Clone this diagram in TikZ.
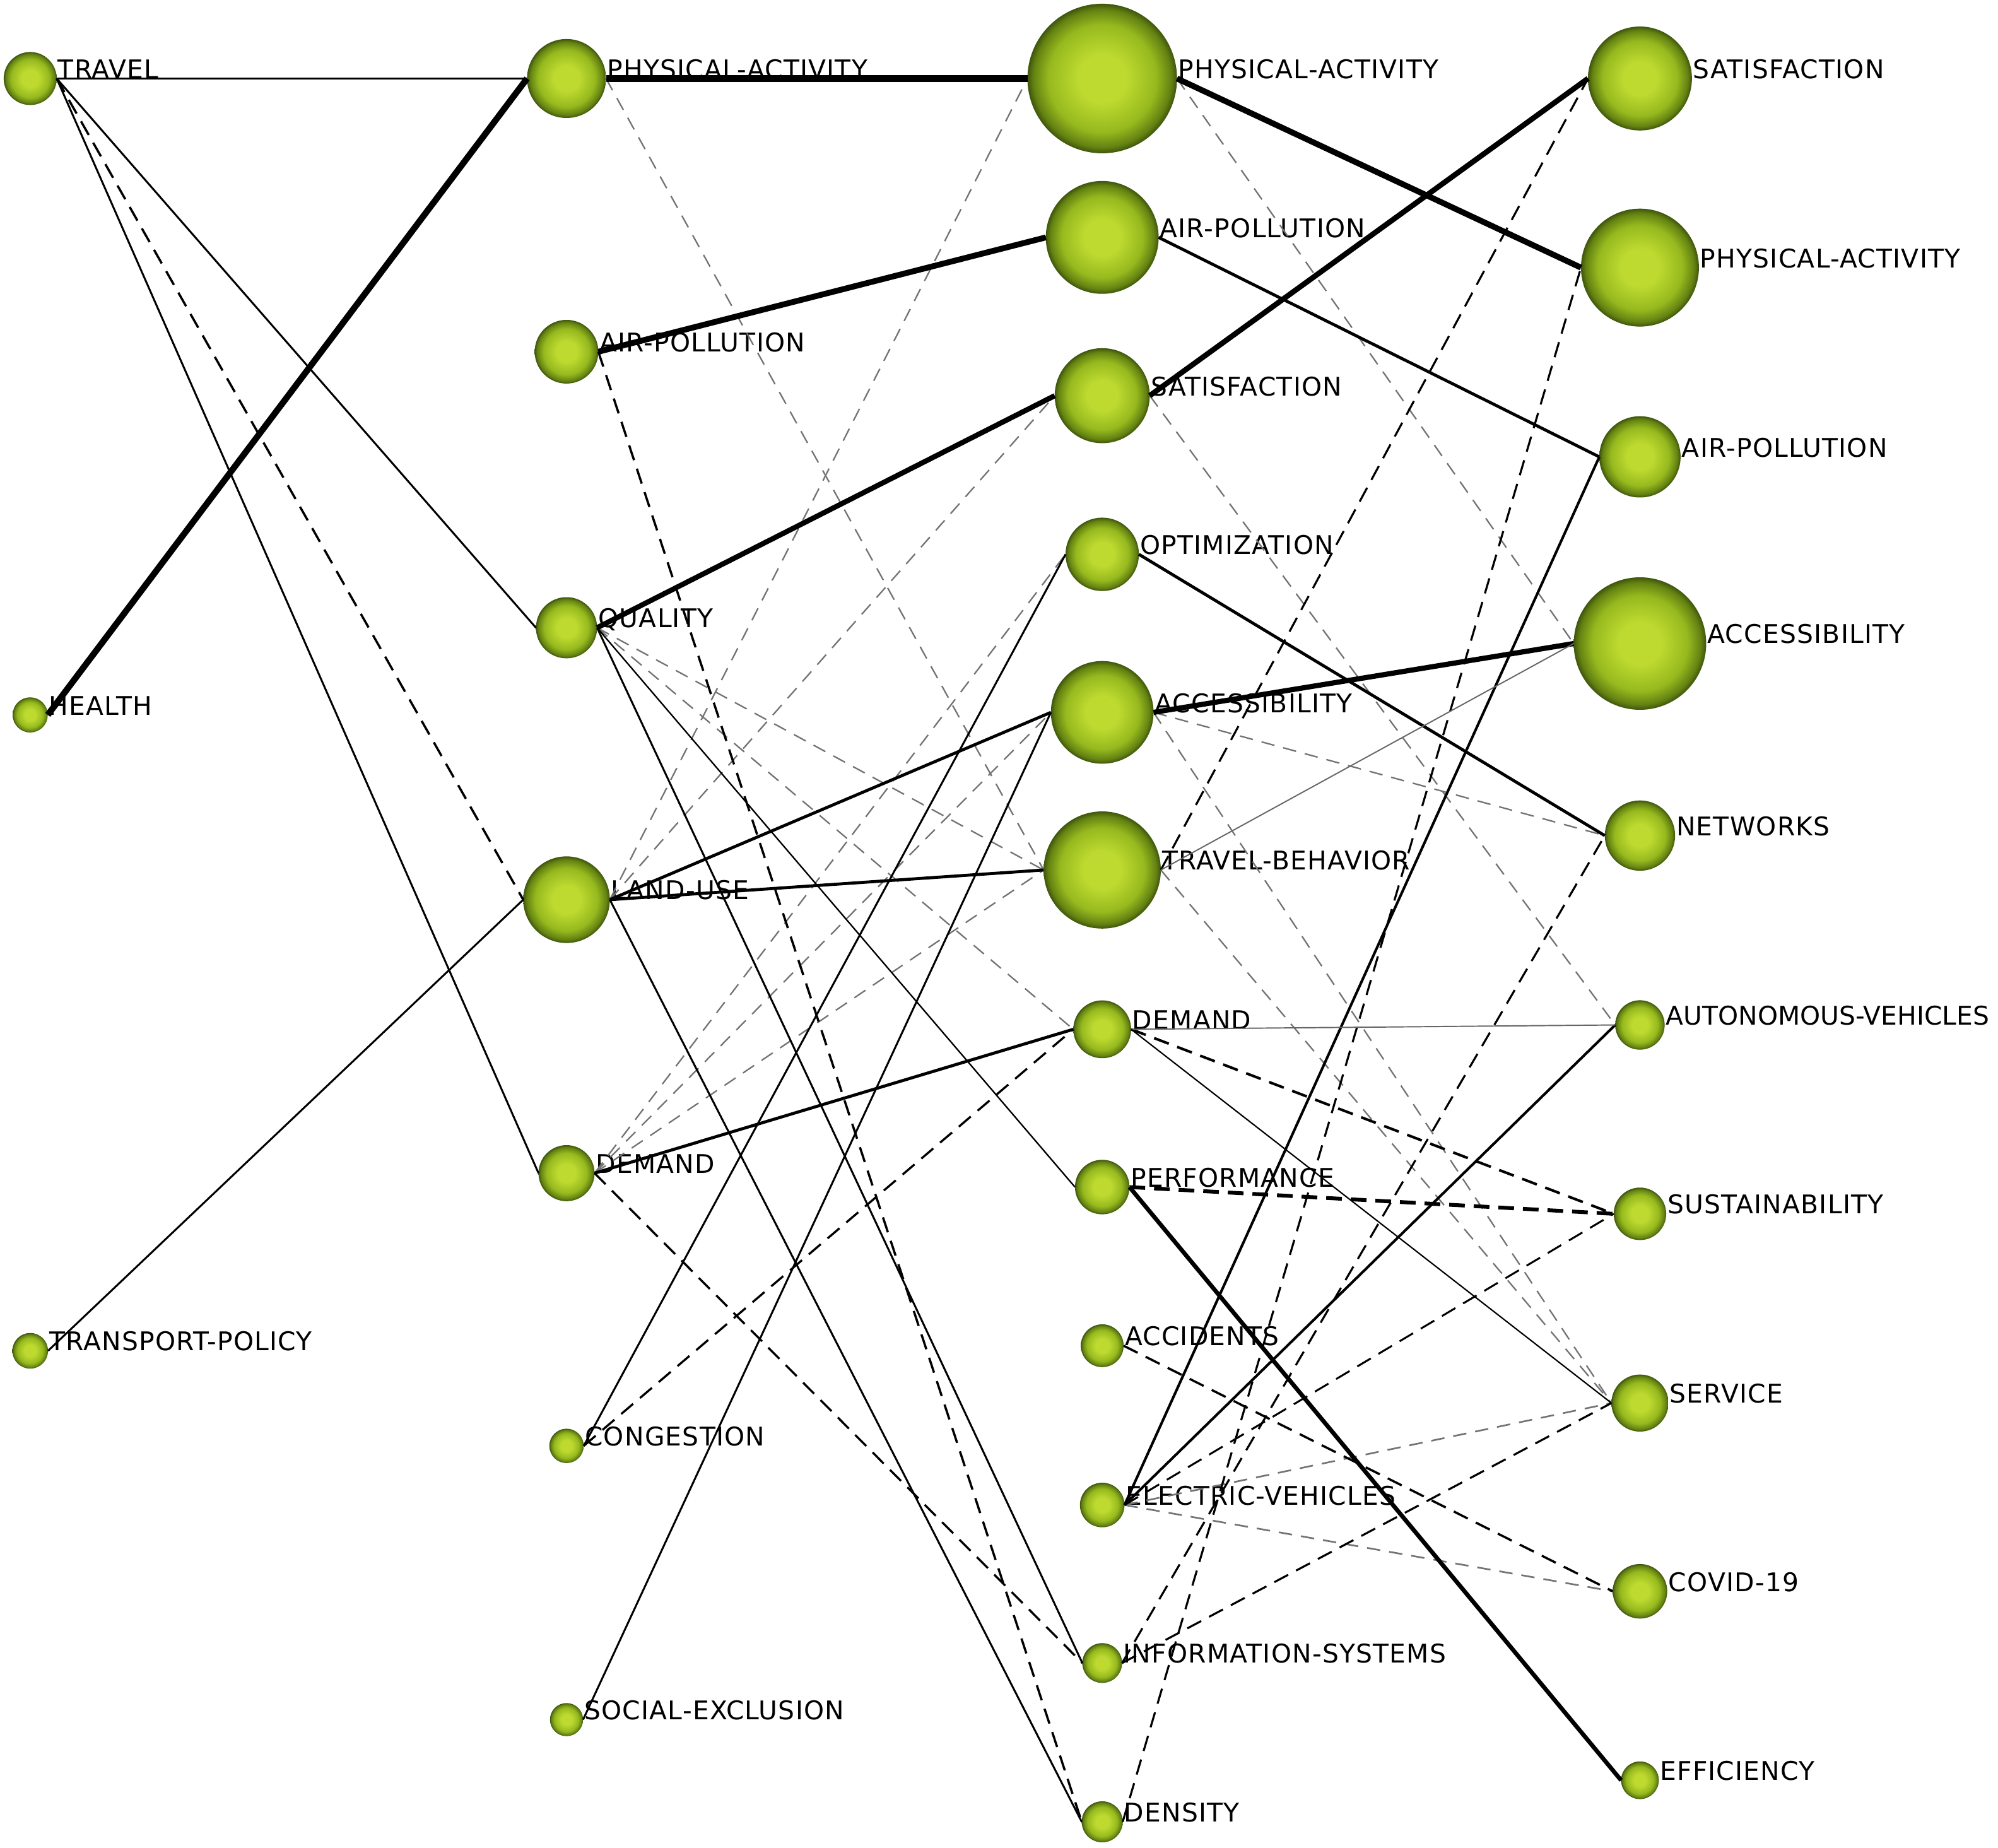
\documentclass[tikz,border=0pt]{standalone}
\usepackage{fontspec}
\setmainfont{DejaVu Sans}[LetterSpace=3]
\definecolor{gbA}{RGB}{190,218,48}
\definecolor{gbB}{RGB}{150,185,30}
\definecolor{gbC}{RGB}{100,130,18}
\definecolor{gbD}{RGB}{62,85,12}
\pgfdeclareradialshading{greenball}{\pgfpoint{0bp}{0bp}}{color(0bp)=(gbA); color(8bp)=(gbA); color(18bp)=(gbB); color(23bp)=(gbC); color(25bp)=(gbD); color(50bp)=(gbD)}
\tikzset{
  ball/.style={circle, inner sep=0pt, outer sep=0pt, shading=greenball},
  kwlbl/.style={anchor=base west, inner sep=0pt, outer sep=0pt, font=\fontsize{11.5pt}{13pt}\selectfont, text=black},
  sol/.style={line width=#1pt, draw=black},
  gsol/.style={line width=#1pt, draw=black!60},
  das/.style={line width=#1pt, draw=black, dash pattern=on 7pt off 4pt},
  gdas/.style={line width=#1pt, draw=black!55, dash pattern=on 6pt off 4pt},
}
\newcommand{\kwnode}[5]{%
  \node[ball, minimum size=#4*0.04cm] (#1) at (#2,#3) {};
  \node[kwlbl] (#1t) at ([xshift=0.02cm]#1.east) {#5};
}
\begin{document}
\begin{tikzpicture}[x=0.02cm, y=-0.02cm]
\useasboundingbox (0,0) rectangle (1568,1450);
% column 1
\kwnode{travel}{23.7}{61.6}{20.8}{TRAVEL}
\kwnode{health}{23.7}{561}{13.8}{HEALTH}
\kwnode{tpol}{23.7}{1060}{14}{TRANSPORT-POLICY}
% column 2
\kwnode{pa2}{444.6}{61.6}{31}{PHYSICAL-ACTIVITY}
\kwnode{ap2}{444.6}{276}{25}{AIR-POLLUTION}
\kwnode{qual}{444.6}{492.6}{24}{QUALITY}
\kwnode{lu}{444.6}{706}{34}{LAND-USE}
\kwnode{dem2}{444.6}{920.6}{22}{DEMAND}
\kwnode{cong}{444.6}{1134.6}{13.5}{CONGESTION}
\kwnode{se}{444.6}{1349.4}{13}{SOCIAL-EXCLUSION}
% column 3
\kwnode{pa3}{865}{61.6}{58.7}{PHYSICAL-ACTIVITY}
\kwnode{ap3}{865}{186.3}{44.3}{AIR-POLLUTION}
\kwnode{sat3}{865}{310.5}{37.3}{SATISFACTION}
\kwnode{opt}{865}{435}{28.8}{OPTIMIZATION}
\kwnode{acc3}{865}{559}{40.3}{ACCESSIBILITY}
\kwnode{tb3}{865}{682.7}{46}{TRAVEL-BEHAVIOR}
\kwnode{dem3}{865}{807.7}{22.7}{DEMAND}
\kwnode{perf}{865}{931.5}{21.4}{PERFORMANCE}
\kwnode{acci}{865}{1056}{16.8}{ACCIDENTS}
\kwnode{ev}{865}{1181}{17.5}{ELECTRIC-VEHICLES}
\kwnode{is}{865}{1305}{15.6}{INFORMATION-SYSTEMS}
\kwnode{dens}{865}{1429.6}{16.1}{DENSITY}
% column 4
\kwnode{sat4}{1287}{61.6}{40.8}{SATISFACTION}
\kwnode{pa4}{1287}{210}{46.3}{PHYSICAL-ACTIVITY}
\kwnode{ap4}{1287}{358.5}{31.9}{AIR-POLLUTION}
\kwnode{acc4}{1287}{505}{52}{ACCESSIBILITY}
\kwnode{net}{1287}{655.7}{27.6}{NETWORKS}
\kwnode{av}{1287}{804.3}{19.4}{\addfontfeature{LetterSpace=0}AUTONOMOUS-VEHICLES}
\kwnode{sust}{1287}{952.5}{20.6}{SUSTAINABILITY}
\kwnode{serv}{1287}{1101}{22.4}{SERVICE}
\kwnode{cov}{1287}{1248.7}{21.4}{COVID-19}
\kwnode{eff}{1287}{1397}{14.8}{EFFICIENCY}
% ---- edges column 1 -> 2
\draw[sol=0.85] (travel.east) -- (pa2.west);
\draw[sol=0.85] (travel.east) -- (qual.west);
\draw[sol=0.85] (travel.east) -- (dem2.west);
\draw[das=1.0] (travel.east) -- (lu.west);
\draw[sol=2.8] (health.east) -- (pa2.west);
\draw[sol=0.85] (tpol.east) -- (lu.west);
% ---- edges column 2 -> 3
\draw[gdas=0.65] (pa2.east) -- (tb3.west);
\draw[gdas=0.65] (lu.east) -- (pa3.west);
\draw[gdas=0.65] (lu.east) -- (sat3.west);
\draw[gdas=0.65] (qual.east) -- (tb3.west);
\draw[gdas=0.65] (qual.east) -- (dem3.west);
\draw[gdas=0.65] (dem2.east) -- (opt.west);
\draw[gdas=0.65] (dem2.east) -- (acc3.west);
\draw[gdas=0.65] (dem2.east) -- (tb3.west);
\draw[das=1.0] (ap2.east) -- (dens.west);
\draw[das=0.95] (dem2.east) -- (is.west);
\draw[das=0.95] (cong.east) -- (dem3.west);
\draw[sol=3.0] (pa2.east) -- (pa3.west);
\draw[sol=2.6] (ap2.east) -- (ap3.west);
\draw[sol=2.3] (qual.east) -- (sat3.west);
\draw[sol=1.35] (lu.east) -- (acc3.west);
\draw[sol=1.35] (lu.east) -- (tb3.west);
\draw[sol=1.35] (dem2.east) -- (dem3.west);
\draw[sol=0.85] (cong.east) -- (opt.west);
\draw[sol=0.85] (se.east) -- (acc3.west);
\draw[sol=0.85] (qual.east) -- (is.west);
\draw[sol=0.65] (qual.east) -- (perf.west);
\draw[sol=0.85] (lu.east) -- (dens.west);
% ---- edges column 3 -> 4
\draw[gdas=0.65] (pa3.east) -- (acc4.west);
\draw[gdas=0.65] (sat3.east) -- (av.west);
\draw[gdas=0.65] (acc3.east) -- (net.west);
\draw[gdas=0.65] (acc3.east) -- (serv.west);
\draw[gdas=0.65] (tb3.east) -- (serv.west);
\draw[gdas=0.75] (ev.east) -- (serv.west);
\draw[gdas=0.75] (ev.east) -- (cov.west);
\draw[das=1.7] (perf.east) -- (sust.west);
\draw[das=1.15] (dem3.east) -- (sust.west);
\draw[das=1.0] (acci.east) -- (cov.west);
\draw[das=0.85] (ev.east) -- (sust.west);
\draw[das=0.9] (is.east) -- (net.west);
\draw[das=0.9] (is.east) -- (serv.west);
\draw[das=0.9] (dens.east) -- (pa4.west);
\draw[das=0.9] (tb3.east) -- (sat4.west);
\draw[sol=2.6] (pa3.east) -- (pa4.west);
\draw[sol=2.4] (sat3.east) -- (sat4.west);
\draw[sol=2.3] (acc3.east) -- (acc4.west);
\draw[sol=1.9] (perf.east) -- (eff.west);
\draw[sol=1.35] (ap3.east) -- (ap4.west);
\draw[sol=1.35] (opt.east) -- (net.west);
\draw[sol=1.15] (ev.east) -- (ap4.west);
\draw[sol=1.15] (ev.east) -- (av.west);
\draw[gsol=0.55] (tb3.east) -- (acc4.west);
\draw[gsol=0.55] (dem3.east) -- (av.west);
\draw[sol=0.6] (dem3.east) -- (serv.west);
\end{tikzpicture}
\end{document}
